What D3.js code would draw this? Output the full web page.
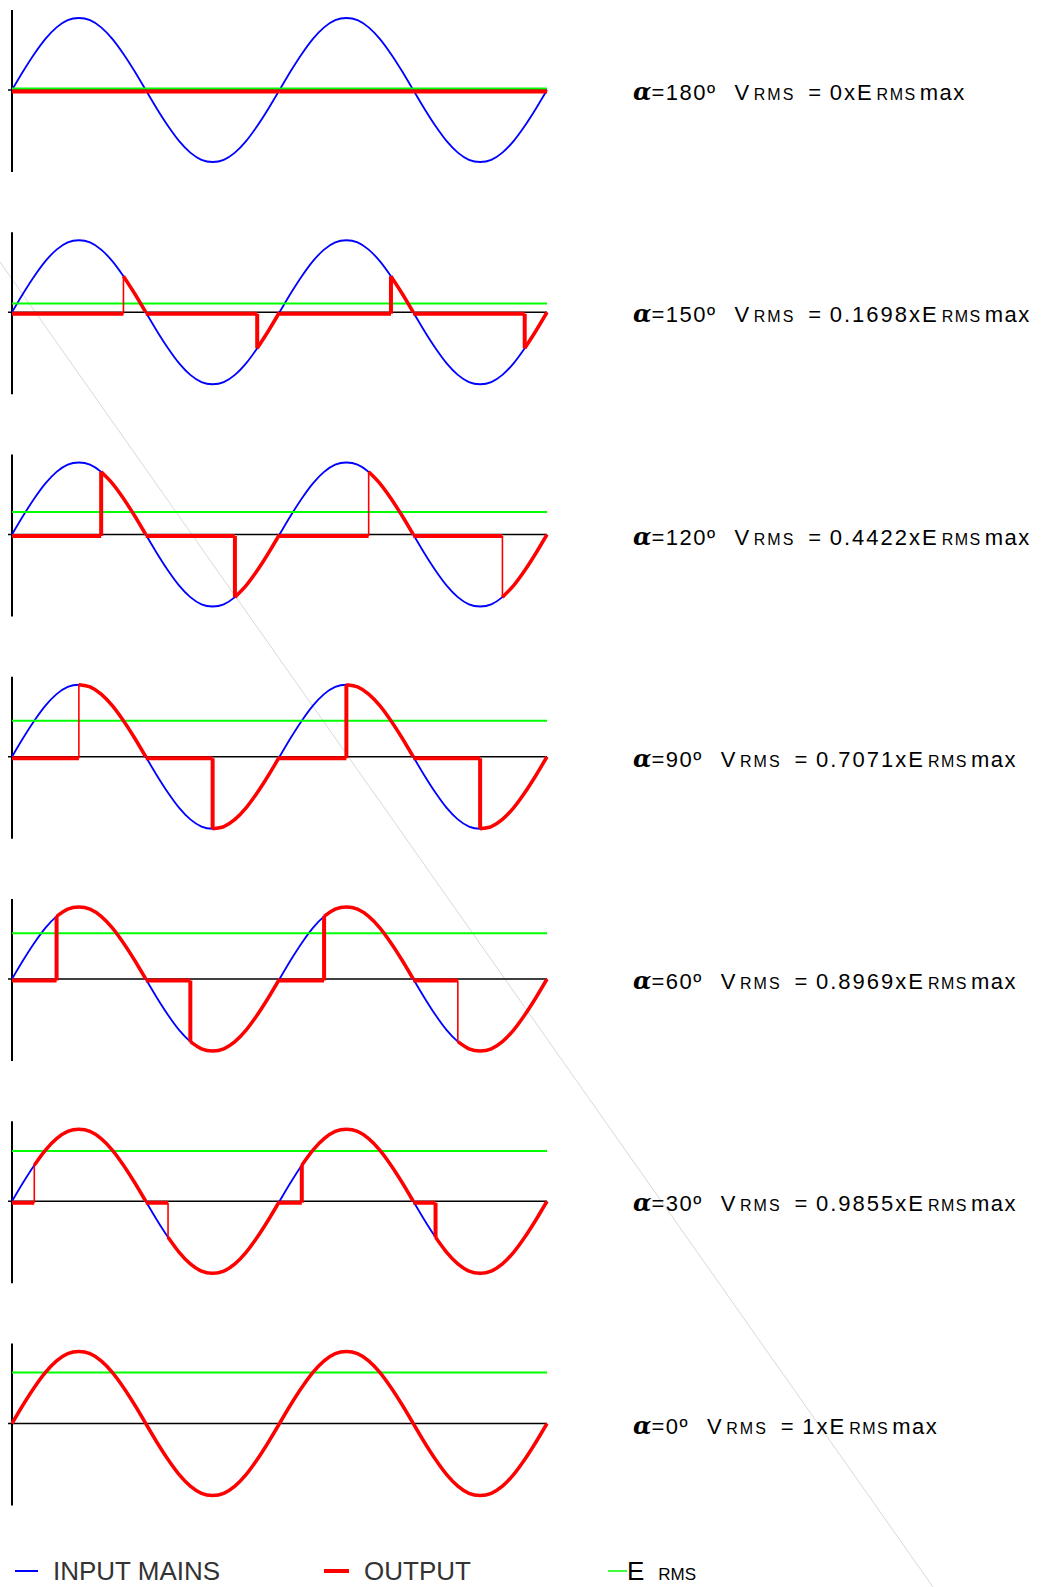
<!DOCTYPE html>
<html>
<head>
<meta charset="utf-8">
<script src="https://cdn.jsdelivr.net/npm/d3@7"></script>
<style>
  body { margin: 0; background: #fff; }
  svg { display: block; }
</style>
</head>
<body>
<svg id="chart"></svg>
<script>
// firing angle of each panel, top to bottom
const firingAngles = [180, 150, 120, 90, 60, 30, 0];
// V rms / E rms max, as printed
const vrmsLabels = ["0", "0.1698", "0.4422", "0.7071", "0.8969", "0.9855", "1"];
const vrmsValues = [0, 0.1698, 0.4422, 0.7071, 0.8969, 0.9855, 1];
// E rms max as a share of the mains peak
const ermsOfPeak = 0.7071;

// input mains, read every 15 degrees over two cycles (peak = 1)
const phaseDeg = [0, 15, 30, 45, 60, 75, 90, 105, 120, 135, 150, 165, 180,
  195, 210, 225, 240, 255, 270, 285, 300, 315, 330, 345, 360,
  375, 390, 405, 420, 435, 450, 465, 480, 495, 510, 525, 540,
  555, 570, 585, 600, 615, 630, 645, 660, 675, 690, 705, 720];
const mainsValues = [0, 0.26, 0.5, 0.71, 0.87, 0.97, 1, 0.97, 0.87, 0.71, 0.5, 0.26, 0,
  -0.26, -0.5, -0.71, -0.87, -0.97, -1, -0.97, -0.87, -0.71, -0.5, -0.26, 0,
  0.26, 0.5, 0.71, 0.87, 0.97, 1, 0.97, 0.87, 0.71, 0.5, 0.26, 0,
  -0.26, -0.5, -0.71, -0.87, -0.97, -1, -0.97, -0.87, -0.71, -0.5, -0.26, 0];

// which thyristor step is drawn heavy (1) or thin (0), per half cycle
const stepHeavy = [[0, 0, 0, 0], [0, 1, 1, 1], [1, 1, 0, 0], [0, 1, 1, 1], [1, 1, 1, 0], [0, 0, 1, 1], [0, 0, 0, 0]];

const legendItems = ["INPUT MAINS", "OUTPUT", "E"];

const W = 1042, H = 1587;
const amp = 72;

const svg = d3.select("#chart").attr("width", W).attr("height", H);

// faint stray diagonal in the original
svg.append("line")
  .attr("x1", 0).attr("y1", 262)
  .attr("x2", 933).attr("y2", 1587)
  .attr("stroke", "#d9d9d9")
  .attr("stroke-width", 1);

const x = d3.scaleLinear().domain([0, 720]).range([12, 547]);
const zeroY = d3.scaleLinear().domain([0, firingAngles.length - 1]).range([90, 1423.5]);

const mains = phaseDeg.map((p, i) => ({ p: p, v: mainsValues[i] }));
const valueAt = (p) => mains.find((d) => d.p === p).v;

firingAngles.forEach(function (alpha, k) {
  const z = zeroY(k);
  const y = d3.scaleLinear().domain([-1, 1]).range([z + amp, z - amp]);
  const g = svg.append("g").attr("class", "panel");

  const curve = d3.line()
    .x((d) => x(d.p))
    .y((d) => y(d.v))
    .curve(d3.curveCardinal.tension(0.2));

  // zero line + little tick left of the axis
  g.append("line")
    .attr("x1", 8).attr("x2", x(720))
    .attr("y1", z).attr("y2", z)
    .attr("stroke", "#000").attr("stroke-width", 1.5);

  // vertical axis
  g.append("line")
    .attr("x1", 12).attr("x2", 12)
    .attr("y1", z - 80).attr("y2", z + 82)
    .attr("stroke", "#000").attr("stroke-width", 2);

  // input mains
  g.append("path")
    .datum(mains)
    .attr("d", curve)
    .attr("fill", "none")
    .attr("stroke", "#0000ff")
    .attr("stroke-width", 1.8);

  // E rms line
  const ge = alpha === 180 ? z - 1.5 : y(vrmsValues[k] * ermsOfPeak);
  g.append("line")
    .attr("x1", x(0)).attr("x2", x(720))
    .attr("y1", ge).attr("y2", ge)
    .attr("stroke", "#00ff00").attr("stroke-width", 2);

  // output, half cycle by half cycle
  const red = g.append("g").attr("class", "output");
  for (let h = 0; h < 4; h++) {
    const s = h * 180;
    const fire = s + alpha;
    if (alpha > 0) {
      red.append("line")
        .attr("x1", x(s)).attr("x2", x(fire))
        .attr("y1", z + 1.5).attr("y2", z + 1.5)
        .attr("stroke", "#ff0000").attr("stroke-width", 4);
    }
    if (alpha > 0 && alpha < 180) {
      red.append("line")
        .attr("x1", x(fire)).attr("x2", x(fire))
        .attr("y1", z + 1.5).attr("y2", y(valueAt(fire)))
        .attr("stroke", "#ff0000")
        .attr("stroke-width", stepHeavy[k][h] ? 4 : 1.6);
    }
    if (alpha < 180) {
      const seg = mains.filter((d) => d.p >= fire && d.p <= s + 180);
      red.append("path")
        .datum(seg)
        .attr("d", curve)
        .attr("fill", "none")
        .attr("stroke", "#ff0000")
        .attr("stroke-width", 3.5)
        .attr("stroke-linejoin", "round");
    }
  }

  // label on the right
  const t = svg.append("text")
    .attr("x", 633)
    .attr("y", z + 10)
    .attr("font-family", "Liberation Sans, Arial, sans-serif")
    .attr("font-size", 22)
    .attr("letter-spacing", 1.5)
    .attr("fill", "#000");
  t.append("tspan")
    .attr("font-family", "DejaVu Serif, serif")
    .attr("font-weight", "bold")
    .attr("font-style", "italic")
    .attr("font-size", 24)
    .attr("letter-spacing", 0)
    .text("α");
  t.append("tspan").text("=" + alpha + "º");
  t.append("tspan").attr("dx", 18).text("V");
  t.append("tspan").attr("dx", 3).attr("font-size", 16).attr("letter-spacing", 2).text("RMS");
  t.append("tspan").attr("dx", 13).text("=");
  t.append("tspan").attr("dx", 7).attr("letter-spacing", 2).text(vrmsLabels[k] + "xE");
  t.append("tspan").attr("dx", 3).attr("font-size", 16).attr("letter-spacing", 1.5).text("RMS");
  t.append("tspan").attr("dx", 3).text("max");
});

// legend
const legendX = [15, 324, 608];
const legendColor = ["#0000ff", "#ff0000", "#00ff00"];
const legendWidth = [2, 4, 1.5];
const legendLen = [23, 25, 19];
const lg = svg.append("g").attr("class", "legend");
legendItems.forEach(function (name, i) {
  lg.append("line")
    .attr("x1", legendX[i]).attr("x2", legendX[i] + legendLen[i])
    .attr("y1", 1571).attr("y2", 1571)
    .attr("stroke", legendColor[i]).attr("stroke-width", legendWidth[i]);
  const lt = lg.append("text")
    .attr("x", legendX[i] + legendLen[i] + (i === 2 ? 0 : 15))
    .attr("y", 1580)
    .attr("font-family", "Liberation Sans, Arial, sans-serif")
    .attr("font-size", 26)
    .attr("fill", i === 2 ? "#000" : "#333")
    .text(name);
  if (i === 2) {
    lt.append("tspan").attr("dx", 14).attr("font-size", 17).text("RMS");
  }
});
</script>
</body>
</html>
